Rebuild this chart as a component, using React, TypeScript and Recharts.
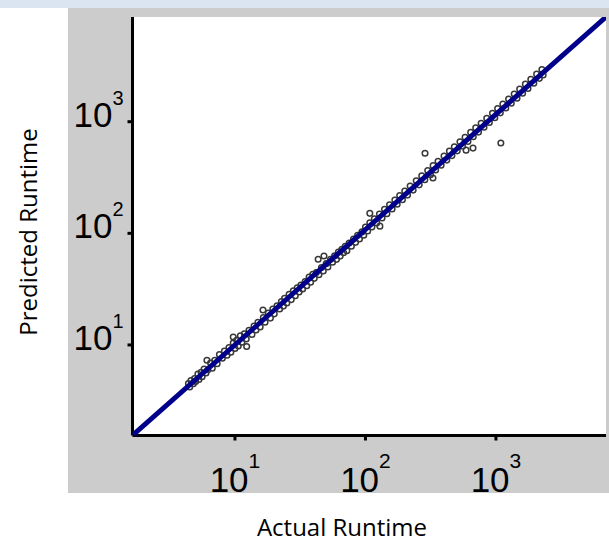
import { ScatterChart, Scatter, XAxis, YAxis } from 'recharts';

const actualRuntime = [
  4.4, 4.5, 4.6, 4.8, 4.9, 5.0, 5.2, 5.3, 5.5, 5.6, 5.8, 6.0, 6.1, 6.2, 6.5, 6.7,
  7.0, 7.3, 7.6, 8.0, 8.3, 8.7, 9.0, 9.3, 9.7, 9.7, 10.0, 10.3, 10.6, 11.0, 11.3, 11.8, 12.2, 12.3, 12.8, 13.5,
  14, 14.5, 15, 15.6, 16.4, 16.5, 17, 18, 18.7, 19.5, 20, 21, 22, 22.7, 23.5, 24, 25, 26, 27, 28, 29, 30, 31, 32, 33, 34.5, 35.5, 37, 38, 39.5, 40.5,
  42, 43.4, 44, 46, 47.5, 48.1, 50, 51.5, 54, 56, 58, 60, 62, 64, 66, 68, 70, 72, 75, 78, 81, 84, 87, 90, 94, 97,
  100, 104, 108, 108, 112, 117, 122, 128, 129, 134, 140, 146, 153, 160, 168, 175, 183, 192, 200, 210, 220, 232, 245, 258, 270, 285, 286, 300, 315,
  329, 330, 345, 360, 380, 400, 420, 440, 460, 480, 505, 530, 555, 580, 590, 610, 640, 667, 670, 700, 735, 770, 810, 850, 890, 940, 980,
  1030, 1080, 1090, 1130, 1190, 1250, 1310, 1380, 1450, 1520, 1600, 1680, 1760, 1850, 1950, 2050, 2150, 2250, 2300,
];

const predictedRuntime = [
  4.5, 4.2, 4.8, 4.5, 5.0, 4.7, 5.5, 4.9, 5.7, 5.2, 6.1, 5.6, 7.3, 6.0, 6.9, 6.2,
  7.3, 6.8, 8.2, 7.6, 8.8, 8.1, 9.5, 8.6, 10.4, 11.8, 9.3, 11.0, 9.8, 12.1, 10.6, 12.6, 11.3, 9.7, 13.5, 12.4,
  14.8, 13.6, 16.0, 14.5, 20.6, 17.6, 16.0, 19.3, 17.4, 21.0, 19.0, 22.4, 21.0, 24.5, 22.3, 26.2, 23.8, 28.5, 25.5, 30.5, 27.6, 32.5, 29.8, 34.5, 31.7, 37, 34.0, 40.5, 36.5, 43, 39.5,
  44.5, 58.6, 42.5, 49.5, 46, 62.7, 53.5, 50, 58.5, 55, 63, 58.5, 68, 62.5, 72, 67, 76.5, 70, 82, 76.5, 89, 83, 96, 89, 103, 96,
  114, 105, 124, 151, 114, 135, 124, 149, 116, 137, 164, 150, 180, 165, 199, 182, 218, 200, 239, 220, 265, 244, 296, 272, 327, 302, 521, 365, 335,
  313, 404, 369, 442, 408, 493, 453, 545, 497, 596, 548, 660, 603, 725, 556, 666, 802, 580, 733, 880, 807, 970, 893, 1075, 984, 1192, 1086,
  1310, 1200, 645, 1440, 1326, 1598, 1464, 1770, 1626, 1957, 1801, 2170, 1988, 2397, 2210, 2666, 2445, 2936, 2622,
];

// fitted line, corner to corner
const fitActual = [1.64, 6970];
const fitPredicted = [1.55, 8670];

const xTicks = [10, 100, 1000];
const yTicks = [10, 100, 1000];

const points = actualRuntime.map((a, i) => ({ x: a, y: predictedRuntime[i] }));
const fitLine = fitActual.map((a, i) => ({ x: a, y: fitPredicted[i] }));

const tickFont = '"Liberation Sans", Arial, sans-serif';
const titleFont = '"Open Sans", "Noto Sans", sans-serif';

const XTick = ({ x, y, payload }: any) => (
  <text x={x} y={y + 51} textAnchor="middle" fontFamily={tickFont} fontSize={35} fill="#000">
    <tspan>10</tspan>
    <tspan dy={-24} fontSize={21}>{Math.round(Math.log10(payload.value))}</tspan>
  </text>
);

const YTick = ({ x, y, payload }: any) => (
  <text x={x - 4} y={y + 5} textAnchor="end" fontFamily={tickFont} fontSize={35} fill="#000">
    <tspan>10</tspan>
    <tspan dy={-22} fontSize={20}>{Math.round(Math.log10(payload.value))}</tspan>
  </text>
);

const Dot = (props: any) => (
  <circle cx={props.cx} cy={props.cy} r={2.8} fill="none" stroke="#383838" strokeWidth={1.5} />
);

export default function App() {
  return (
    <div style={{ position: 'absolute', left: 0, top: 0, width: 609, height: 547, background: '#fff' }}>
      <div style={{ position: 'absolute', left: 0, top: 0, width: 609, height: 8, background: '#dbe5f1' }} />
      <div style={{ position: 'absolute', left: 68, top: 8, width: 541, height: 485, background: '#cccccc' }} />
      <div style={{ position: 'absolute', left: 133, top: 17, width: 473, height: 419, background: '#fff' }} />
      <div style={{ position: 'absolute', left: 0, top: 0 }}>
        <ScatterChart width={609} height={547} margin={{ top: 17, right: 3, bottom: 0, left: 0 }}>
          <XAxis
            type="number"
            dataKey="x"
            scale="log"
            domain={[1.64, 6970]}
            allowDataOverflow
            ticks={xTicks}
            interval={0}
            height={111.5}
            tickSize={5}
            tickMargin={0}
            axisLine={{ stroke: '#000', strokeWidth: 3 }}
            tickLine={{ stroke: '#000', strokeWidth: 3 }}
            tick={<XTick />}
          />
          <YAxis
            type="number"
            dataKey="y"
            scale="log"
            domain={[1.545, 8670]}
            allowDataOverflow
            ticks={yTicks}
            interval={0}
            width={132.5}
            tickSize={5}
            tickMargin={0}
            axisLine={{ stroke: '#000', strokeWidth: 3 }}
            tickLine={{ stroke: '#000', strokeWidth: 3 }}
            tick={<YTick />}
          />
          <Scatter data={points} shape={Dot} isAnimationActive={false} />
          <Scatter
            data={fitLine}
            line={{ stroke: '#00008b', strokeWidth: 5 }}
            shape={() => <g />}
            isAnimationActive={false}
          />
        </ScatterChart>
      </div>
      <svg width={609} height={547} style={{ position: 'absolute', left: 0, top: 0, pointerEvents: 'none' }}>
        <text x={342} y={536} textAnchor="middle" fontFamily={titleFont} fontSize={24} fill="#000">
          Actual Runtime
        </text>
        <text
          x={37}
          y={232}
          transform="rotate(-90, 37, 232)"
          textAnchor="middle"
          fontFamily={titleFont}
          fontSize={24}
          fill="#000"
        >
          Predicted Runtime
        </text>
      </svg>
    </div>
  );
}
